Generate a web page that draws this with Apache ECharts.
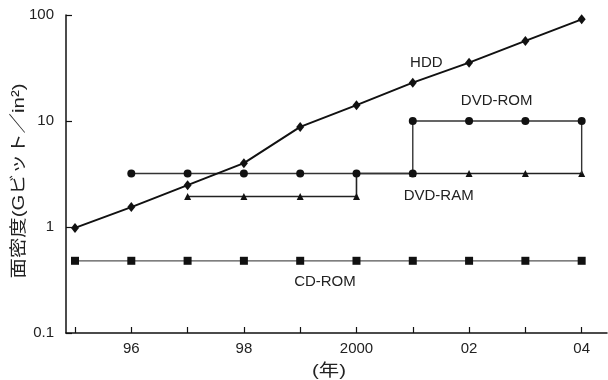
<!DOCTYPE html>
<html>
<head>
<meta charset="utf-8">
<script src="https://cdn.jsdelivr.net/npm/echarts@6/dist/echarts.min.js"></script>
<style>
html,body{margin:0;padding:0;background:#fff;}
#chart{width:608px;height:380px;}
</style>
</head>
<body>
<div id="chart"></div>
<script>
// ---- data ----
const years = [1995, 1996, 1997, 1998, 1999, 2000, 2001, 2002, 2003, 2004];
const hdd = [0.98, 1.54, 2.48, 4.0, 8.8, 14.1, 23, 35.5, 57, 91];
const cdRom = [0.48, 0.48, 0.48, 0.48, 0.48, 0.48, 0.48, 0.48, 0.48, 0.48];
const dvdRomYears = [1996, 1997, 1998, 1999, 2000, 2001, 2001, 2002, 2003, 2004, 2004];
const dvdRomValues = [3.2, 3.2, 3.2, 3.2, 3.2, 3.2, 10, 10, 10, 10, 3.2];
const dvdRomMarked = [true, true, true, true, true, true, true, true, true, true, false];
const dvdRamYears = [1997, 1998, 1999, 2000, 2000, 2001, 2002, 2003, 2004];
const dvdRamValues = [1.94, 1.94, 1.94, 1.94, 3.2, 3.2, 3.2, 3.2, 3.2];
const dvdRamMarked = [true, true, true, true, false, true, true, true, true];
const xLabelYears = [1996, 1998, 2000, 2002, 2004];
const xLabelTexts = ['96', '98', '2000', '02', '04'];
const yTickValues = [0.1, 1, 10, 100];
const yTickTexts = ['0.1', '1', '10', '100'];
const seriesNames = ['HDD', 'DVD-ROM', 'DVD-RAM', 'CD-ROM'];
const yAxisTitle = '面密度(Gビット／in²)';
const xAxisTitle = '(年)';

// ---- helpers ----
function pairs(xs, ys, marked) {
  return xs.map((x, i) => {
    const item = { value: [x, ys[i]] };
    if (marked && !marked[i]) item.symbol = 'none';
    return item;
  });
}
const textFont = 'Liberation Sans, Arial, Helvetica, sans-serif';
function tag(text, coord) {
  return {
    symbol: 'rect', symbolSize: 1, silent: true,
    itemStyle: { color: 'rgba(0,0,0,0)' },
    label: { show: true, position: 'inside', formatter: text, fontSize: 15,
             color: '#222', fontFamily: textFont },
    data: [{ coord: coord }]
  };
}

const chart = echarts.init(document.getElementById('chart'), null, { renderer: 'canvas' });
const option = {
  animation: false,
  backgroundColor: '#fff',
  grid: { left: 66, right: 1, top: 15, bottom: 47, containLabel: false },
  xAxis: {
    type: 'value', min: 1994.84, max: 2004.45,
    axisLine: { show: true, onZero: false, lineStyle: { color: '#111', width: 1.5 } },
    axisTick: { show: true, inside: true, length: 6, customValues: years,
                lineStyle: { color: '#111', width: 1.2 } },
    axisLabel: { show: true, customValues: xLabelYears, margin: 8,
                 formatter: v => xLabelTexts[xLabelYears.indexOf(Math.round(v))] || '',
                 fontSize: 15, color: '#222', fontFamily: textFont },
    splitLine: { show: false }
  },
  yAxis: {
    type: 'log', logBase: 10, min: 0.1, max: 100,
    axisLine: { show: true, lineStyle: { color: '#111', width: 1.5 } },
    axisTick: { show: true, inside: true, length: 6, customValues: yTickValues,
                lineStyle: { color: '#111', width: 1.2 } },
    axisLabel: { show: true, customValues: yTickValues, margin: 12,
                 formatter: v => { const i = yTickValues.findIndex(t => Math.abs(t - v) / t < 1e-6); return i >= 0 ? yTickTexts[i] : ''; },
                 fontSize: 15, color: '#222', fontFamily: textFont },
    splitLine: { show: false },
    minorTick: { show: false }
  },
  series: [
    {
      name: seriesNames[3], type: 'line', z: 2,
      data: pairs(years, cdRom),
      symbol: 'rect', symbolSize: 8,
      lineStyle: { color: '#555', width: 1.3 },
      itemStyle: { color: '#111' },
      markPoint: tag(seriesNames[3], [1999.44, 0.305])
    },
    {
      name: seriesNames[2], type: 'line', z: 3,
      data: pairs(dvdRamYears, dvdRamValues, dvdRamMarked),
      symbol: 'triangle', symbolSize: 7,
      lineStyle: { color: '#222', width: 1.6 },
      itemStyle: { color: '#111' },
      markPoint: tag(seriesNames[2], [2001.46, 1.97])
    },
    {
      name: seriesNames[1], type: 'line', z: 4,
      data: pairs(dvdRomYears, dvdRomValues, dvdRomMarked),
      symbol: 'circle', symbolSize: 8,
      lineStyle: { color: '#333', width: 1.4 },
      itemStyle: { color: '#111' },
      markPoint: tag(seriesNames[1], [2002.49, 15.5])
    },
    {
      name: seriesNames[0], type: 'line', z: 5,
      data: pairs(years, hdd),
      symbol: 'diamond', symbolSize: [8, 10],
      lineStyle: { color: '#111', width: 2 },
      itemStyle: { color: '#111' },
      markPoint: tag(seriesNames[0], [2001.24, 35.3])
    }
  ],
  graphic: [
    {
      type: 'text', x: 19, y: 181, rotation: Math.PI / 2, scaleX: 1.2, scaleY: 1,
      style: { text: yAxisTitle, fontSize: 17, fill: '#222', align: 'center', verticalAlign: 'middle',
               fontFamily: 'Liberation Sans, "Noto Sans CJK JP", sans-serif' }
    },
    {
      type: 'text', x: 329, y: 371, scaleX: 1.2, scaleY: 1,
      style: { text: xAxisTitle, fontSize: 17, fill: '#222', align: 'center', verticalAlign: 'middle',
               fontFamily: 'Liberation Sans, "Noto Sans CJK JP", sans-serif' }
    }
  ]
};
chart.setOption(option);
</script>
</body>
</html>
